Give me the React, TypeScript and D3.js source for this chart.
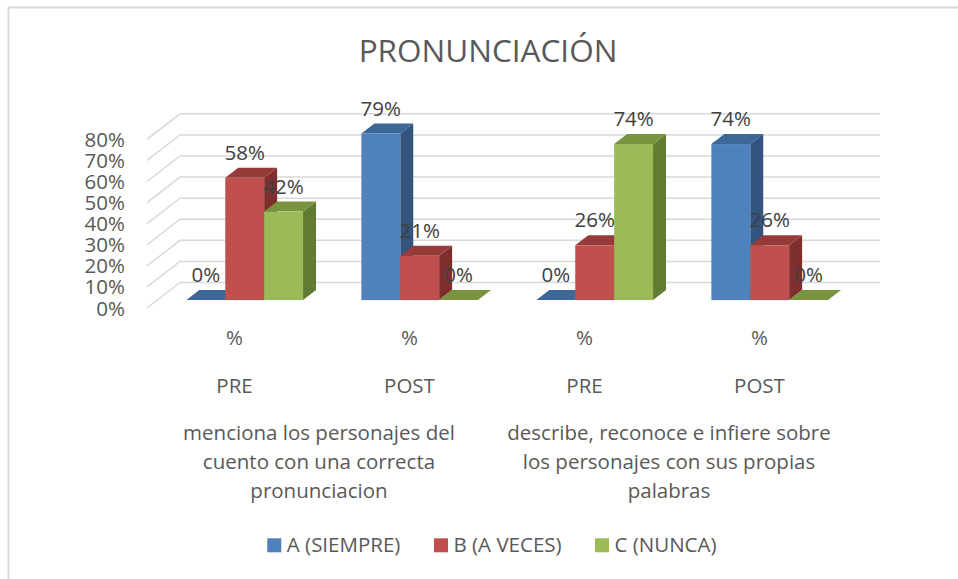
import React from "react";
import * as d3 from "d3";

const categories = ["%", "%", "%", "%"];
const subCategories = ["PRE", "POST", "PRE", "POST"];
const groupLabels = [
  ["menciona los personajes del", "cuento con una correcta", "pronunciacion"],
  ["describe, reconoce e infiere sobre", "los personajes con sus propias", "palabras"],
];
const seriesNames = ["A (SIEMPRE)", "B (A VECES)", "C (NUNCA)"];
const seriesA = [0, 0.79, 0, 0.74];
const seriesB = [0.58, 0.21, 0.26, 0.26];
const seriesC = [0.42, 0, 0.74, 0];
const yTicks = [0, 0.1, 0.2, 0.3, 0.4, 0.5, 0.6, 0.7, 0.8];
const title = "PRONUNCIACIÓN";

const seriesValues = [seriesA, seriesB, seriesC];
const palette = [
  { front: "#4F81BD", top: "#3D6796", side: "#32547E" },
  { front: "#C0504D", top: "#953B39", side: "#7E2F2D" },
  { front: "#9BBB59", top: "#78943F", side: "#627B33" },
];

const W = 958;
const H = 579;
const FONT = "'Open Sans', sans-serif";

export default function App() {
  const plotLeft = 147;
  const plotRight = 847;
  const floorFront = 308;
  const depthX = 33;
  const depthY = -25.5;
  const barShiftX = 10.2;
  const barShiftY = -7.9;
  const barDX = 13;
  const barDY = -10;

  const x0 = d3
    .scaleBand<number>()
    .domain(categories.map((_, i) => i))
    .range([plotLeft, plotRight]);
  const x1 = d3
    .scaleBand<number>()
    .domain(seriesNames.map((_, i) => i))
    .range([0, x0.bandwidth()])
    .paddingOuter(0.75);
  const y = d3.scaleLinear().domain([0, 0.8]).range([floorFront, floorFront - 168.7]);

  const bars: any[] = [];
  categories.forEach((_, ci) => {
    seriesNames.forEach((_, si) => {
      const v = seriesValues[si][ci];
      const xl = (x0(ci) as number) + (x1(si) as number) + barShiftX;
      const xr = xl + x1.bandwidth();
      const yb = y(0) + barShiftY;
      const yt = y(v) + barShiftY;
      bars.push({ ci, si, v, xl, xr, yb, yt });
    });
  });

  const textColor = "#595959";

  return (
    <svg
      width={W}
      height={H}
      style={{ position: "absolute", left: 0, top: 0, background: "#fff" }}
      fontFamily={FONT}
    >
      <rect x={0} y={0} width={W} height={H} fill="#fff" />
      <rect x={8.5} y={7.5} width={W + 10} height={H + 10} fill="none" stroke="#d9d9d9" strokeWidth={2} />
      <text x={488} y={61.5} textAnchor="middle" fontSize={31.5} fill={textColor}>
        {title}
      </text>

      {yTicks.map((t) => (
        <path
          key={"g" + t}
          d={`M${plotLeft},${y(t)}L${plotLeft + depthX},${y(t) + depthY}L${plotRight + depthX},${y(t) + depthY}`}
          fill="none"
          stroke="#d9d9d9"
          strokeWidth={1.5}
        />
      ))}
      {yTicks.map((t) => (
        <text
          key={"yl" + t}
          x={125}
          y={y(t) + 7.5}
          textAnchor="end"
          fontSize={20.5}
          fill={textColor}
        >
          {d3.format(".0%")(t)}
        </text>
      ))}

      {bars.map((b, i) => {
        const c = palette[b.si];
        if (b.v === 0) {
          return (
            <polygon
              key={"b" + i}
              points={`${b.xl},${b.yb} ${b.xl + barDX},${b.yb + barDY} ${b.xr + barDX},${b.yb + barDY} ${b.xr},${b.yb}`}
              fill={c.top}
            />
          );
        }
        return (
          <g key={"b" + i}>
            <polygon
              points={`${b.xr},${b.yb} ${b.xr + barDX},${b.yb + barDY} ${b.xr + barDX},${b.yt + barDY} ${b.xr},${b.yt}`}
              fill={c.side}
            />
            <polygon
              points={`${b.xl},${b.yt} ${b.xl + barDX},${b.yt + barDY} ${b.xr + barDX},${b.yt + barDY} ${b.xr},${b.yt}`}
              fill={c.top}
            />
            <rect x={b.xl} y={b.yt} width={b.xr - b.xl} height={b.yb - b.yt} fill={c.front} />
          </g>
        );
      })}

      {bars.map((b, i) => (
        <text
          key={"dl" + i}
          x={(b.xl + b.xr) / 2}
          y={b.yt - 18}
          textAnchor="middle"
          fontSize={20.5}
          fill="#404040"
        >
          {d3.format(".0%")(b.v)}
        </text>
      ))}

      {categories.map((c, i) => (
        <g key={"c" + i}>
          <text
            x={(x0(i) as number) + x0.bandwidth() / 2}
            y={345}
            textAnchor="middle"
            fontSize={20.5}
            fill={textColor}
          >
            {c}
          </text>
          <text
            x={(x0(i) as number) + x0.bandwidth() / 2}
            y={392.5}
            textAnchor="middle"
            fontSize={20.5}
            fill={textColor}
          >
            {subCategories[i]}
          </text>
        </g>
      ))}

      {groupLabels.map((lines, gi) => {
        const cx = (x0(gi * 2) as number) + x0.bandwidth() - 3;
        return (
          <text key={"gl" + gi} textAnchor="middle" fontSize={20.5} fill={textColor}>
            {lines.map((l, li) => (
              <tspan key={li} x={cx} y={440 + li * 29}>
                {l}
              </tspan>
            ))}
          </text>
        );
      })}

      {seriesNames.map((s, i) => {
        const lx = [267.3, 434, 595][i];
        return (
          <g key={"lg" + i}>
            <rect x={lx} y={538.3} width={14} height={14} fill={palette[i].front} />
            <text x={lx + 19.5} y={552} fontSize={20.5} fill={textColor}>
              {s}
            </text>
          </g>
        );
      })}
    </svg>
  );
}
